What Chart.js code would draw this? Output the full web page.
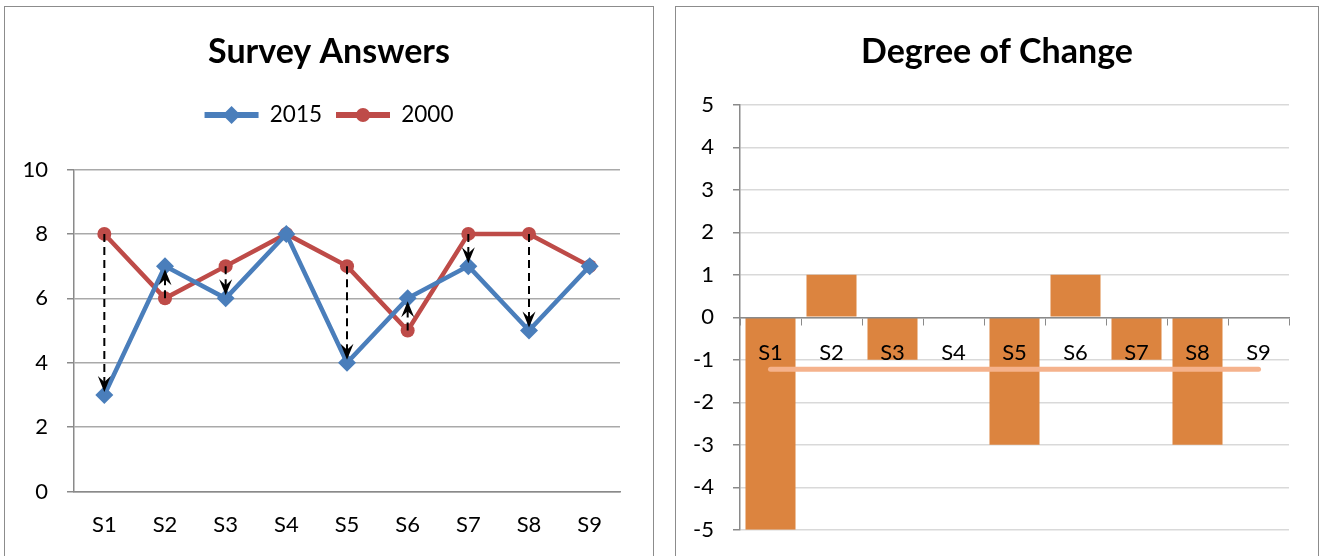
<!DOCTYPE html>
<html>
<head>
<meta charset="utf-8">
<script src="https://cdn.jsdelivr.net/npm/chart.js@4.4.0/dist/chart.umd.min.js"></script>
<style>
body { margin: 0; background: #fff; width: 1325px; height: 556px; overflow: hidden; position: relative; }
.box { position: absolute; top: 6px; height: 570px; border: 1px solid #8c8c8c; background: #fff; }
#left { left: 4px; width: 648px; }
#right { left: 675px; width: 642px; }
canvas { display: block; }
</style>
</head>
<body>
<div class="box" id="left"><canvas id="survey" width="648" height="560"></canvas></div>
<div class="box" id="right"><canvas id="change" width="642" height="555"></canvas></div>
<script>
// data
const questions = ['S1', 'S2', 'S3', 'S4', 'S5', 'S6', 'S7', 'S8', 'S9'];
const answers2015 = [3, 7, 6, 8, 4, 6, 7, 5, 7];
const answers2000 = [8, 6, 7, 8, 7, 5, 8, 8, 7];
const changes = [-5, 1, -1, 0, -3, 1, -1, -3, 0];
const avgChange = [-1.22, -1.22, -1.22, -1.22, -1.22, -1.22, -1.22, -1.22, -1.22];
const surveyTicks = [0, 2, 4, 6, 8, 10];
const changeTicks = [-5, -4, -3, -2, -1, 0, 1, 2, 3, 4, 5];

const blue = '#4a7ebb';
const red = '#be4b48';
const orange = '#dc843f';
const avgColor = '#f5b28c';

Chart.defaults.font.family = 'Lato';
Chart.defaults.color = '#000';
Chart.defaults.devicePixelRatio = 1;

// dashed arrows from the 2000 answer to the 2015 answer
const arrowPlugin = {
    id: 'arrows',
    afterDatasetsDraw(chart) {
        const ctx = chart.ctx;
        const x = chart.scales.x, y = chart.scales.y;
        ctx.save();
        ctx.strokeStyle = '#000';
        ctx.fillStyle = '#000';
        ctx.lineWidth = 2;
        questions.forEach((q, i) => {
            const from = answers2000[i], to = answers2015[i];
            if (from === to) return;
            const px = x.getPixelForValue(i);
            const y0 = y.getPixelForValue(from);
            const y1 = y.getPixelForValue(to);
            const dir = y1 > y0 ? 1 : -1;
            const tip = y1 - dir * 3;
            ctx.setLineDash([8, 5]);
            ctx.beginPath();
            ctx.moveTo(px, y0);
            ctx.lineTo(px, tip - dir * 8);
            ctx.stroke();
            ctx.setLineDash([]);
            ctx.beginPath();
            ctx.moveTo(px, tip);
            ctx.lineTo(px - 6.5, tip - dir * 16);
            ctx.lineTo(px, tip - dir * 10);
            ctx.lineTo(px + 6.5, tip - dir * 16);
            ctx.closePath();
            ctx.fill();
        });
        ctx.restore();
    }
};

// put the series marker in the middle of each legend line
const legendMarkers = {
    id: 'legendMarkers',
    afterDraw(chart) {
        const legend = chart.legend;
        if (!legend || !legend.legendHitBoxes) return;
        const ctx = chart.ctx;
        const boxW = legend.options.labels.boxWidth;
        legend.legendHitBoxes.forEach((hb, i) => {
            const ds = chart.data.datasets[i];
            const cx = hb.left + boxW / 2;
            const cy = hb.top + hb.height / 2;
            ctx.save();
            ctx.fillStyle = ds.pointBackgroundColor;
            ctx.beginPath();
            if (ds.pointStyle === 'rectRot') {
                const r = ds.pointRadius;
                ctx.moveTo(cx, cy - r);
                ctx.lineTo(cx + r, cy);
                ctx.lineTo(cx, cy + r);
                ctx.lineTo(cx - r, cy);
                ctx.closePath();
            } else {
                ctx.arc(cx, cy, ds.pointRadius, 0, Math.PI * 2);
            }
            ctx.fill();
            ctx.restore();
        });
    }
};

// empty axis on the right, only there to keep the plot off the right edge
const spacer = (w) => ({
    type: 'linear',
    position: 'right',
    grid: { display: false },
    border: { display: false },
    ticks: { display: false },
    afterFit: (s) => { s.width = w; }
});

new Chart(document.getElementById('survey'), {
    type: 'line',
    data: {
        labels: questions,
        datasets: [{
            label: '2015',
            data: answers2015,
            borderColor: blue,
            backgroundColor: blue,
            borderWidth: 4.5,
            pointStyle: 'rectRot',
            pointRadius: 9,
            pointBackgroundColor: blue,
            pointBorderColor: blue,
            pointBorderWidth: 0,
            tension: 0
        }, {
            label: '2000',
            data: answers2000,
            borderColor: red,
            backgroundColor: red,
            borderWidth: 4.5,
            pointStyle: 'circle',
            pointRadius: 7,
            pointBackgroundColor: red,
            pointBorderColor: red,
            pointBorderWidth: 0,
            tension: 0
        }]
    },
    options: {
        responsive: false,
        animation: false,
        layout: { padding: { top: 0, right: 0, bottom: 9, left: 0 } },
        plugins: {
            title: {
                display: true,
                text: 'Survey Answers',
                font: { size: 34, weight: 'bold' },
                color: '#000',
                padding: { top: 25, bottom: 17 }
            },
            subtitle: {
                display: true,
                text: '',
                weight: 500,
                font: { size: 1 },
                padding: { top: 0, bottom: 32 }
            },
            legend: {
                display: true,
                labels: {
                    boxWidth: 54,
                    boxHeight: 6,
                    padding: 14,
                    font: { size: 22.5 },
                    color: '#000',
                    generateLabels: (chart) =>
                        Chart.defaults.plugins.legend.labels.generateLabels(chart)
                            .map(l => Object.assign(l, { lineWidth: 0 }))
                }
            },
            tooltip: { enabled: false }
        },
        scales: {
            x: {
                offset: true,
                grid: { display: false, drawTicks: false },
                border: { display: true, color: '#8a8a8a', width: 1.5 },
                ticks: { font: { size: 22 }, padding: 20, color: '#000' }
            },
            y: {
                min: 0,
                max: 10,
                afterBuildTicks: (s) => { s.ticks = surveyTicks.map(v => ({ value: v })); },
                afterFit: (s) => { s.width = 69; },
                grid: { color: '#a9a9a9', lineWidth: 1.5, tickLength: 7, tickColor: '#8a8a8a' },
                border: { display: true, color: '#8a8a8a', width: 1.5 },
                ticks: { font: { size: 22 }, padding: 19, color: '#000' }
            },
            pad: spacer(33)
        }
    },
    plugins: [arrowPlugin, legendMarkers]
});

new Chart(document.getElementById('change'), {
    type: 'bar',
    data: {
        labels: questions,
        datasets: [{
            type: 'line',
            label: 'Average',
            data: avgChange,
            borderColor: avgColor,
            borderWidth: 5,
            borderCapStyle: 'round',
            pointRadius: 0,
            order: 0
        }, {
            label: 'Change',
            data: changes,
            backgroundColor: orange,
            borderWidth: 0,
            barPercentage: 0.82,
            categoryPercentage: 1,
            order: 1
        }]
    },
    options: {
        responsive: false,
        animation: false,
        layout: { padding: { top: 0, right: 0, bottom: 23, left: 0 } },
        plugins: {
            title: {
                display: true,
                text: 'Degree of Change',
                font: { size: 34, weight: 'bold' },
                color: '#000',
                padding: { top: 25, bottom: 32 }
            },
            legend: { display: false },
            tooltip: { enabled: false }
        },
        scales: {
            x: {
                position: { y: 0 },
                offset: true,
                grid: { offset: true, drawOnChartArea: false, drawTicks: true, tickLength: 7, tickColor: '#8a8a8a' },
                border: { display: true, color: '#8a8a8a', width: 1.5, z: 1 },
                ticks: { font: { size: 22 }, padding: 15, color: '#000', z: 1 }
            },
            y: {
                min: -5,
                max: 5,
                afterBuildTicks: (s) => { s.ticks = changeTicks.map(v => ({ value: v })); },
                afterFit: (s) => { s.width = 64; },
                grid: { color: '#d9d9d9', lineWidth: 1.5, tickLength: 7, tickColor: '#8a8a8a' },
                border: { display: true, color: '#8a8a8a', width: 1.5 },
                ticks: { font: { size: 22 }, padding: 19, color: '#000' }
            },
            pad: spacer(29)
        }
    }
});
</script>
</body>
</html>
